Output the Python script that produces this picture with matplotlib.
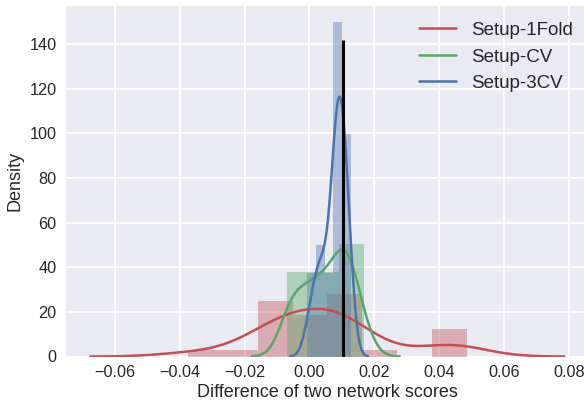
import numpy as np
import matplotlib
matplotlib.use('Agg')
import matplotlib.pyplot as plt
import seaborn as sns

# differences of two network scores, one array per setup (30 runs each)
setup_1fold = [-0.0374,
               -0.0245,
               -0.0155, -0.0140, -0.0125, -0.0110, -0.0095, -0.0080, -0.0070, -0.0060,
               -0.0040, -0.0020, 0.0000, 0.0015, 0.0030, 0.0045,
               0.0060, 0.0070, 0.0080, 0.0090, 0.0100, 0.0110, 0.0120, 0.0135, 0.0150,
               0.0200,
               0.0390, 0.0420, 0.0450, 0.0484]
setup_cv = [-0.00684, -0.0065, -0.0060, -0.0050, -0.0040, -0.0030, -0.0015, 0.0000, 0.0009,
            0.0013, 0.0020, 0.0030, 0.0040, 0.0050, 0.0060, 0.0070, 0.0080, 0.0088,
            0.0092, 0.0097, 0.0102, 0.0107, 0.0112, 0.0117, 0.0122, 0.0128, 0.0135,
            0.0143, 0.0155, 0.01694]
setup_3cv = [-0.00064, 0.0010, 0.0018,
             0.0025, 0.0033, 0.0040, 0.0045,
             0.0055, 0.0064, 0.0070,
             0.0074, 0.0077, 0.0080, 0.0082, 0.0084, 0.0086, 0.0088, 0.0090, 0.0093,
             0.0095, 0.0097, 0.0100,
             0.0102, 0.0105, 0.0108, 0.0111, 0.0114, 0.0118, 0.0122, 0.0127]

labels = ["Setup-1Fold", "Setup-CV", "Setup-3CV"]
n_bins = [8, 3, 5]
colors = ["#C44E52", "#55A868", "#4C72B0"]

ref_x = 0.0102
ref_top = 142


def kde_curve(data, cut=3, gridsize=100):
    # gaussian kde, scott bandwidth, like the old distplot
    data = np.asarray(data)
    bw = data.std(ddof=1) * len(data) ** (-1 / 5.)
    grid = np.linspace(data.min() - cut * bw, data.max() + cut * bw, gridsize)
    z = (grid[:, None] - data[None, :]) / bw
    dens = np.exp(-0.5 * z ** 2).sum(axis=1) / (len(data) * bw * np.sqrt(2 * np.pi))
    return grid, dens


sns.set_style("darkgrid")
plt.rcParams['font.family'] = ['Liberation Sans', 'DejaVu Sans']

fig = plt.figure(figsize=(5.84, 4.04), dpi=100)
ax = fig.add_axes([65 / 584, 47.5 / 404, 525 / 584, 351.5 / 404])

for data, nb, c, lab in zip([setup_1fold, setup_cv, setup_3cv], n_bins, colors, labels):
    ax.hist(data, bins=nb, density=True, alpha=0.4, color=c, linewidth=0, edgecolor='none')
    gx, gy = kde_curve(data)
    ax.plot(gx, gy, color=c, lw=1.8, label=lab)

ax.vlines(ref_x, 0, ref_top, color='k', lw=2.2)

ax.set_xlim(-0.0753, 0.0864)
ax.set_ylim(0, 157.6)
ax.set_xticks([-0.06, -0.04, -0.02, 0.00, 0.02, 0.04, 0.06, 0.08])
ax.set_xticklabels(["\u22120.06", "\u22120.04", "\u22120.02", "0.00", "0.02", "0.04", "0.06", "0.08"])
ax.set_yticks([0, 20, 40, 60, 80, 100, 120, 140])
ax.tick_params(labelsize=11.7, length=0, pad=6, colors='#262626')
ax.grid(color='white', lw=1.3)
ax.set_xlabel("Difference of two network scores", fontsize=13, color='#262626', labelpad=3)
ax.set_ylabel("Density", fontsize=13, color='#262626', labelpad=4)
ax.legend(loc='upper right', fontsize=13.5, frameon=False)

fig.savefig("out.png", dpi=100)
